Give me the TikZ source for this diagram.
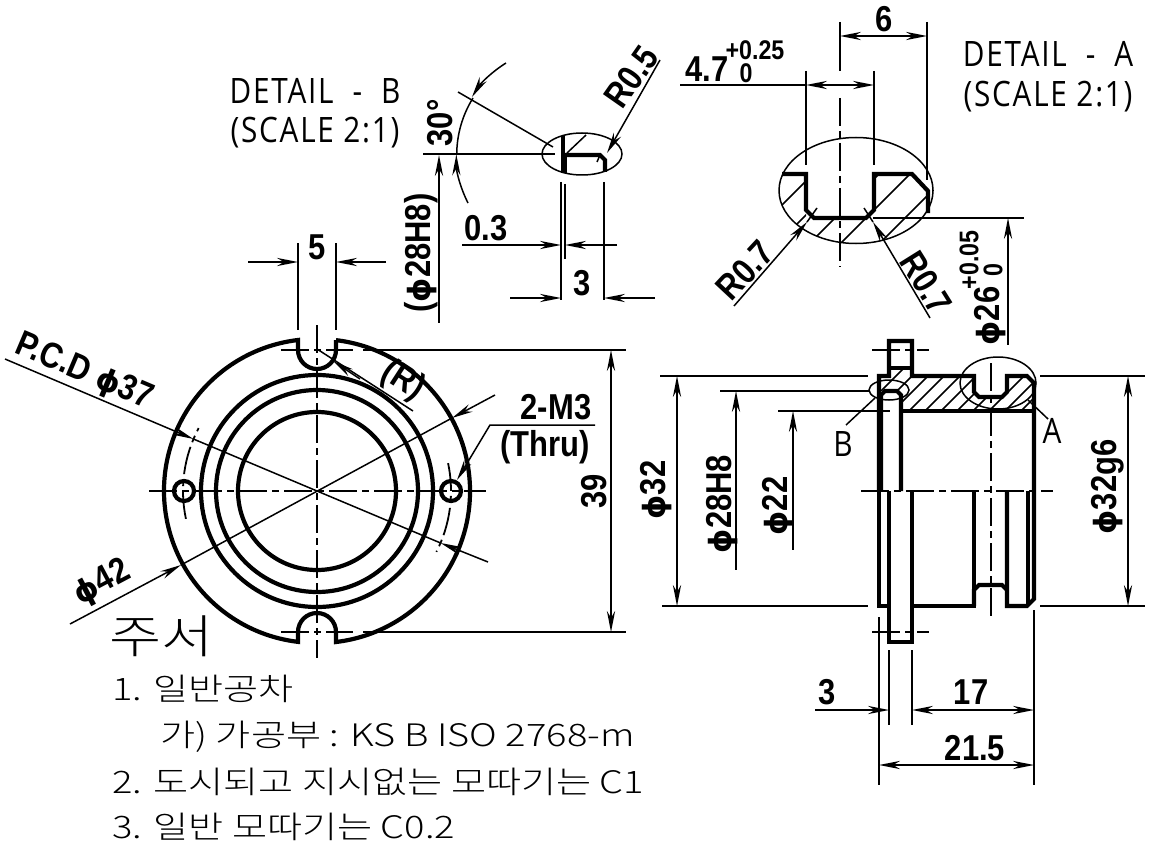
\documentclass[tikz,border=0pt]{standalone}
\usepackage{fontspec}
\usetikzlibrary{arrows.meta}
\newfontfamily\krfont[FakeStretch=1.23]{Noto Sans CJK KR Light}
\newfontfamily\detfont[FakeStretch=0.85,LetterSpace=5]{Open Sans}
\newfontfamily\dimfont[FakeStretch=0.86,BoldFont={* Bold}]{Liberation Sans}
\newfontfamily\phifont[Scale=0.85]{DejaVu Sans}
\newcommand{\PH}{{\phifont\bfseries ϕ}}
\tikzset{
  x=0.5pt,y=-0.5pt,
  thickln/.style={line width=2.1pt,line join=miter},
  thinln/.style={line width=0.75pt},
  cline/.style={line width=0.9pt,dash pattern=on 14pt off 2.5pt on 3.5pt off 2.5pt},
  tipped/.style={thinln,>={Stealth[length=10.5pt,width=4.1pt]}},
  dimtxt/.style={font=\dimfont\bfseries\fontsize{18}{18}\selectfont,inner sep=0pt},
  smalltxt/.style={font=\dimfont\bfseries\fontsize{13.5}{13.5}\selectfont,inner sep=0pt},
  lbl/.style={font=\detfont\fontsize{17.5}{17.5}\selectfont,inner sep=0pt},
  note/.style={font=\krfont\fontsize{15.5}{15.5}\selectfont,inner sep=0pt,anchor=west},
}
\begin{document}
\begin{tikzpicture}
\useasboundingbox (0,0) rectangle (1154,845);
\fill[white] (0,0) rectangle (1154,845);

%% ---------- front view ----------
\draw[thickln] (336,340) -- (336,350) arc[start angle=0,end angle=180,radius=19] -- (298,340)
  arc[start angle=263.2,end angle=96.8,radius=152] -- (298,632)
  arc[start angle=180,end angle=360,radius=19] -- (336,642)
  arc[start angle=83.2,end angle=-83.2,radius=152];
\draw[thickln] (317,491) circle[radius=116] (317,491) circle[radius=101] (317,491) circle[radius=79];
\draw[thickln] (184,491) circle[radius=10] (451,491) circle[radius=10];
\draw[cline] (149,491) -- (486,491);
\draw[cline] (317,325) -- (317,658);
\draw[cline] (317,491) ++(168:134) arc[start angle=168,end angle=208,radius=134];
\draw[cline] (317,491) ++(-12:134) arc[start angle=-12,end angle=27,radius=134];
\draw[cline] (281,350) -- (353,350) (281,632) -- (353,632);
% dimension 5
\draw[thinln] (298,243) -- (298,330) (336,243) -- (336,330);
\draw[tipped,->] (248,262) -- (298,262);
\draw[tipped,->] (386,262) -- (336,262);
\node[dimtxt] (d5) at (317,247) {5};
% PCD
\draw[tipped,->] (5,359) -- (193.4,439);
\draw[thinln] (193.4,439) -- (440.6,543);
\draw[tipped,->] (488,562) -- (440.6,543);
\node[dimtxt,rotate=-23] (pcd) at (84,372) {P.C.D \PH37};
% phi 42
\draw[tipped,->] (70,624) -- (181,565);
\draw[thinln] (181,565) -- (452,418);
\draw[tipped,->] (495,395) -- (452,418);
\node[dimtxt,rotate=28] (d42) at (102,583) {\PH42};
% R
\draw[thinln] (317,349) -- (413,411);
\draw[tipped,->] (360,379) -- (333,361);
\node[dimtxt,rotate=-33] (rr) at (403,381) {(R)};
% 2-M3
\draw[tipped,<-] (457,480) -- (490,425) -- (595,425);
\node[dimtxt] (m3) at (556,407) {2-M3};
\node[dimtxt] (thru) at (545,447) {(Thru)};
% 39
\draw[thinln] (363,350) -- (626,350) (363,632) -- (626,632);
\draw[tipped,<->] (611,350) -- (611,632);
\node[dimtxt,rotate=90] (d39) at (594,491) {39};

%% ---------- side view ----------
\fill[white] (881,376) rectangle (1034,411);
\begin{scope}
\clip (881,376) -- (889,376) -- (889,368) -- (912,368) -- (912,376) -- (974,376) -- (974,397) -- (1007,397) -- (1007,376) -- (1027,376) -- (1034,383) -- (1034,411) -- (901,411) -- (901,391) -- (881,391) -- cycle;
\foreach \c in {1272,1288,...,1432} {\draw[thinln] (\c-900,900) -- (\c-300,300);}
\end{scope}
\draw[thickln] (879,491) -- (879,376) -- (889,376) -- (889,341) -- (912,341) -- (912,376) -- (974,376) -- (974,392) -- (979,397) -- (1002,397) -- (1007,392) -- (1007,376) -- (1027,376) -- (1034,383) -- (1034,599) -- (1027,606) -- (1007,606) -- (1007,491);
\draw[thickln] (889,368) -- (912,368);
\draw[thickln] (881,491) -- (881,395) -- (885,391) -- (897,391) -- (901,395) -- (901,491);
\draw[thickln] (901,411) -- (1034,411);
\draw[thickln] (879,491) -- (879,606) -- (889,606);
\draw[thickln] (889,491) -- (889,642) -- (912,642) -- (912,491);
\draw[thickln] (912,606) -- (974,606) -- (974,491);
\draw[thickln] (974,606) -- (974,590) -- (979,585) -- (1002,585) -- (1007,590);
\draw[thickln] (1028,491) -- (1028,606);
\draw[cline] (861,491) -- (1053,491);
\draw[cline] (991,363) -- (991,618);
\draw[cline] (872,350) -- (929,350) (872,632) -- (929,632);
% ellipses
\draw[thinln] (998,383) ellipse[x radius=38,y radius=26];
\draw[thinln] (889,390) ellipse[x radius=20,y radius=10];
% labels A/B
\draw[thinln] (1028,400) -- (1048,419);
\draw[thinln] (875,398) -- (846,425);
\node[lbl] (la) at (1052,431) {A};
\node[lbl] (lb) at (843,444) {B};
% left dims
\draw[thinln] (660,376) -- (868,376) (662,606) -- (868,606);
\draw[tipped,<->] (677,376) -- (677,606);
\node[dimtxt,rotate=90] (d32) at (656,490) {\PH32};
\draw[thinln] (720,391) -- (869,391);
\draw[tipped,<-] (736,391) -- (736,570);
\node[dimtxt,rotate=90] (d28) at (722,504) {\PH28H8};
\draw[thinln] (778,411) -- (890,411);
\draw[tipped,<-] (793,411) -- (793,550);
\node[dimtxt,rotate=90] (d22) at (778,506) {\PH22};
% right dims
\draw[thinln] (1040,376) -- (1145,376) (1040,606) -- (1145,606);
\draw[tipped,<->] (1128,376) -- (1128,606);
\node[dimtxt,rotate=90] (d32g) at (1108,487) {\PH32g6};
% bottom dims
\draw[thinln] (879,617) -- (879,785) (1034,610) -- (1034,785) (889,650) -- (889,725) (912,650) -- (912,725);
\draw[tipped,->] (815,710) -- (889,710);
\draw[tipped,<->] (912,710) -- (1034,710);
\node[dimtxt] (d3b) at (827,692) {3};
\node[dimtxt] (d17) at (971,692) {17};
\draw[tipped,<->] (879,765) -- (1034,765);
\node[dimtxt] (d215) at (975,748) {21.5};

%% ---------- detail B ----------
\node[lbl] (detb1) at (315,91) {DETAIL\ \ -\ \ B};
\node[lbl] (detb2) at (315,133) {(SCALE 2:1)};
\draw[thinln] (582,154) ellipse[x radius=40,y radius=21];
\draw[thickln] (563,136) -- (563,173);
\draw[thickln,line width=1.3pt] (566,154) -- (566,173);
\draw[thickln] (563,155) -- (600,155) -- (605,160) -- (605,172);
\draw[thinln] (567,153) -- (586,135);
\draw[thinln] (597,162) -- (600,155);
\draw[thinln] (423,154) -- (555,154);
\draw[thinln] (458,92) -- (553,147);
\draw[tipped,->] (506,63) arc[start angle=-122,end angle=-148,radius=107];
\draw[thinln] (473,98) arc[start angle=-148,end angle=-180,radius=107];
\draw[tipped,->] (468,203) arc[start angle=153,end angle=180,radius=107];
\node[dimtxt,rotate=90] (d30) at (440,123) {30°};
\draw[tipped,->] (660,60) -- (607,153);
\node[dimtxt,rotate=55] (r05) at (631,77) {R0.5};
\draw[thinln] (561,182) -- (561,300) (604,182) -- (604,300) (565,184) -- (565,259);
\draw[tipped,->] (462,245) -- (561,245);
\draw[tipped,->] (617,245) -- (565,245);
\node[dimtxt] (d03) at (486,228) {0.3};
\draw[tipped,->] (510,298) -- (561,298);
\draw[tipped,->] (655,298) -- (604,298);
\node[dimtxt] (d3c) at (582,283) {3};
\draw[tipped,<-] (439,155) -- (439,323);
\node[dimtxt,rotate=90] (d28p) at (421,253) {(\PH28H8)};

%% ---------- detail A ----------
\node[lbl] (deta1) at (1048,54) {DETAIL\ \ -\ \ A};
\node[lbl] (deta2) at (1048,97) {(SCALE 2:1)};
\begin{scope}
\clip (856,190.5) ellipse[x radius=77,y radius=53];
\clip (770,174) -- (806,174) -- (806,218) -- (874,218) -- (874,174) -- (912,174) -- (928,191) -- (928,260) -- (770,260) -- cycle;
\foreach \c in {987,1021,1053,1084,1123} {\draw[thinln] (\c-900,900) -- (\c,0);}
\end{scope}
\draw[thinln] (856,190.5) ellipse[x radius=77,y radius=53];
\draw[thickln] (782,174) -- (806,174) -- (806,210) -- (814,218) -- (866,218) -- (874,210) -- (874,174) -- (912,174) -- (928,191) -- (928,213);
\draw[cline] (840,98) -- (840,267);
\draw[thinln] (840,22) -- (840,71) (806,71) -- (806,165) (874,71) -- (874,165) (927,22) -- (927,180);
\draw[tipped,<->] (840,36) -- (927,36);
\node[dimtxt] (d6) at (884,19) {6};
\draw[thinln] (680,85) -- (806,85);
\draw[tipped,<->] (806,85) -- (874,85);
\node[dimtxt] (d47) at (707,69) {4.7};
\node[smalltxt] (d47a) at (755,50) {+0.25};
\node[smalltxt] (d47b) at (746,73) {0};
\draw[tipped,->] (734,306) -- (807,222);
\draw[thinln] (807,222) -- (817,208);
\node[dimtxt,rotate=47] (r07a) at (745,270) {R0.7};
\draw[tipped,->] (930,318) -- (873,222);
\draw[thinln] (873,222) -- (864,208);
\node[dimtxt,rotate=-58] (r07b) at (926,283) {R0.7};
\draw[thinln] (873,218) -- (1024,218);
\draw[tipped,<-] (1008,218) -- (1008,345);
\node[dimtxt,rotate=90] (d26) at (990,316) {\PH26};
\node[smalltxt,rotate=90] (d26a) at (969,260) {+0.05};
\node[smalltxt,rotate=90] (d26b) at (993,270) {0};

%% ---------- notes ----------
\node[note,font=\krfont\fontsize{23}{23}\selectfont] (n0) at (109,636) {주서};
\node[note] (n1) at (112,689) {1. 일반공차};
\node[note] (n2) at (160,737) {가) 가공부 : KS B ISO 2768-m};
\node[note] (n3) at (112,782) {2. 도시되고 지시없는 모따기는 C1};
\node[note] (n4) at (112,827) {3. 일반 모따기는 C0.2};
\end{tikzpicture}
\end{document}
